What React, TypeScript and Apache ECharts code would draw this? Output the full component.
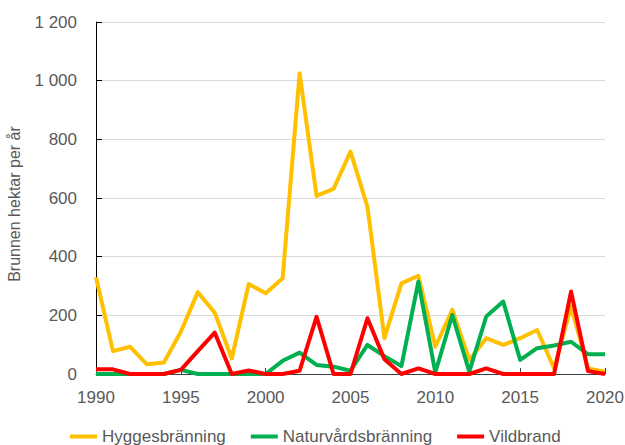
import React, { useEffect, useRef } from "react";
import * as echarts from "echarts";

const years = [1990,1991,1992,1993,1994,1995,1996,1997,1998,1999,2000,2001,2002,2003,2004,2005,2006,2007,2008,2009,2010,2011,2012,2013,2014,2015,2016,2017,2018,2019,2020];
const hyggesbranning = [330,78,93,33,39,144,279,209,53,307,275,326,1025,607,631,758,570,122,309,335,93,219,48,122,99,122,150,19,230,19,8];
const naturvardsbranning = [0,0,0,0,0,14,0,0,0,0,0,45,73,31,25,11,99,61,27,315,5,201,8,196,247,48,88,97,110,67,67];
const vildbrand = [16,16,0,0,0,14,78,141,0,12,0,0,11,195,0,0,190,50,0,19,0,0,0,19,0,0,0,0,281,10,0];
const seriesNames = ["Hyggesbränning", "Naturvårdsbränning", "Vildbrand"];
const seriesColors = ["#FFC000", "#00B050", "#FF0000"];

const font = "'Liberation Sans', Arial, sans-serif";

export default function App() {
  const ref = useRef<HTMLDivElement>(null);
  useEffect(() => {
    if (!ref.current) return;
    const chart = echarts.init(ref.current, undefined, { renderer: "svg" });
    const all = [hyggesbranning, naturvardsbranning, vildbrand];
    chart.setOption({
      animation: false,
      grid: { left: 96, right: 20, top: 22, bottom: 71, outerBoundsMode: "none" },
      legend: {
        data: seriesNames,
        left: 70,
        top: 428,
        icon: "rect",
        itemWidth: 27,
        itemHeight: 4,
        itemGap: 25,
        padding: 0,
        textStyle: { color: "#595959", fontSize: 17, fontFamily: font },
      },
      xAxis: {
        type: "value",
        min: 1990,
        max: 2020,
        interval: 5,
        axisLine: { lineStyle: { color: "#404040", width: 1 } },
        axisTick: { show: true, inside: true, length: 6, lineStyle: { color: "#404040" } },
        splitLine: { show: false },
        axisLabel: {
          color: "#595959",
          fontSize: 17,
          fontFamily: font,
          margin: 15,
          formatter: (v: number) => String(v),
        },
      },
      yAxis: {
        type: "value",
        min: 0,
        max: 1200,
        interval: 200,
        name: "Brunnen hektar per år",
        nameLocation: "middle",
        nameGap: 74,
        nameTextStyle: { color: "#595959", fontSize: 16, fontFamily: font, padding: [0, 12, 0, 0] },
        axisLine: { show: true, lineStyle: { color: "#000000", width: 1 } },
        axisTick: { show: true, inside: true, length: 6, lineStyle: { color: "#000000" } },
        splitLine: { show: true, lineStyle: { color: "#D9D9D9", width: 1 } },
        axisLabel: {
          color: "#595959",
          fontSize: 17,
          fontFamily: font,
          margin: 19,
          formatter: (v: number) => String(v).replace(/\B(?=(\d{3})+(?!\d))/g, " "),
        },
      },
      series: all.map((vals, i) => ({
        name: seriesNames[i],
        type: "line",
        data: years.map((y, j) => [y, vals[j]]),
        showSymbol: false,
        symbol: "none",
        lineStyle: { color: seriesColors[i], width: 4, join: "round" },
        itemStyle: { color: seriesColors[i] },
      })),
    });
    return () => chart.dispose();
  }, []);
  return <div ref={ref} style={{ width: 625, height: 445, position: "absolute", left: 0, top: 0 }} />;
}
